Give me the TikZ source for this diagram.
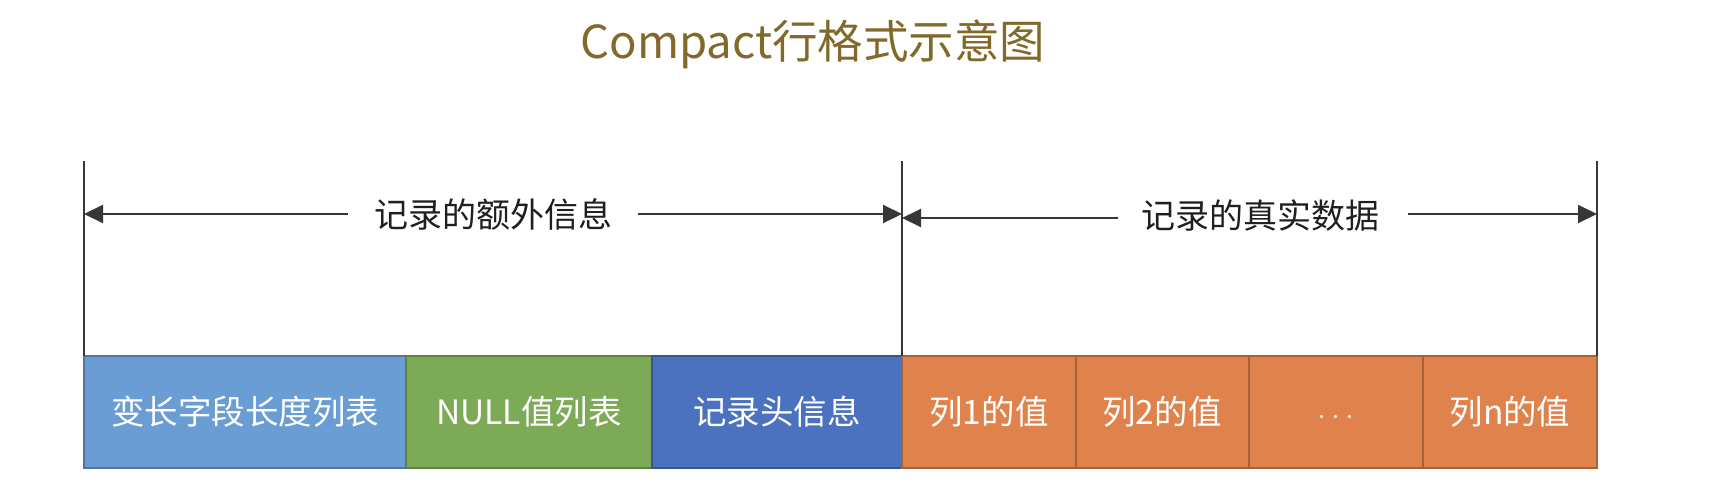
\documentclass[tikz,border=0pt]{standalone}
\usepackage{fontspec}
\setmainfont{Noto Sans CJK SC}
\usetikzlibrary{arrows.meta}
\definecolor{titlecol}{RGB}{130,105,42}
\definecolor{lineblue}{RGB}{106,157,211}
\definecolor{linegreen}{RGB}{124,170,86}
\definecolor{darkblue}{RGB}{74,114,190}
\definecolor{orangec}{RGB}{224,130,75}
\definecolor{rulecol}{RGB}{55,55,55}
\tikzset{
  seg/.style={draw=#1!75!black, line width=1.2pt, fill=#1},
  segtext/.style={text=white, font=\fontsize{33.5}{38}\selectfont},
  rule/.style={draw=rulecol, line width=2pt},
  dimarrow/.style={draw=rulecol, line width=2pt, -{Triangle[length=19pt,width=18pt]}},
  dimlabel/.style={font=\fontsize{34}{38}\selectfont, text=black!88, inner xsep=0pt},
}
\begin{document}
\begin{tikzpicture}[x=1pt,y=-1pt]
\useasboundingbox (0,0) rectangle (1730,488);
\fill[white] (0,0) rectangle (1730,488);
% title
\node[font=\fontsize{45.5}{52}\selectfont, text=titlecol] (title) at (813,44) {Compact行格式示意图};
% boxes
\draw[seg=lineblue] (84,356) rectangle (406,468);
\draw[seg=linegreen] (406,356) rectangle (652,468);
\draw[seg=darkblue] (652,356) rectangle (902,468);
\draw[seg=orangec] (902,356) rectangle (1076,468);
\draw[seg=orangec] (1076,356) rectangle (1249,468);
\draw[seg=orangec] (1249,356) rectangle (1423,468);
\draw[seg=orangec] (1423,356) rectangle (1597,468);
\node[segtext] (b1) at (245,412) {变长字段长度列表};
\node[segtext] (b2) at (529,412) {NULL值列表};
\node[segtext] (b3) at (777,412) {记录头信息};
\node[segtext] (b4) at (989,412) {列1的值};
\node[segtext] (b5) at (1162,412) {列2的值};
\node[segtext, text=white!75!orangec, font=\fontsize{25}{28}\selectfont] (b6) at (1336,417) {.\hspace{7pt}.\hspace{7pt}.};
\node[segtext] (b7) at (1510,412) {列n的值};
% vertical rules
\coordinate (lt) at (84,161);
\coordinate (lb) at (84,356);
\coordinate (mt) at (902,161);
\coordinate (mb) at (902,356);
\coordinate (rt) at (1597,161);
\coordinate (rb) at (1597,356);
\draw[rule] (lt) -- (lb);
\draw[rule] (mt) -- (mb);
\draw[rule] (rt) -- (rb);
% dimension labels
\node[dimlabel] (d1) at (493,214) {记录的额外信息};
\node[dimlabel] (d2) at (1260,216) {记录的真实数据};
\coordinate (a1l) at (84,214);
\coordinate (a1r) at (902,214);
\coordinate (a2l) at (902,218);
\coordinate (a2r) at (1597,214);
\draw[dimarrow] (348,214) -- (a1l);
\draw[dimarrow] (638,214) -- (a1r);
\draw[dimarrow] (1118,218) -- (a2l);
\draw[dimarrow] (1408,214) -- (a2r);
\end{tikzpicture}
\end{document}
